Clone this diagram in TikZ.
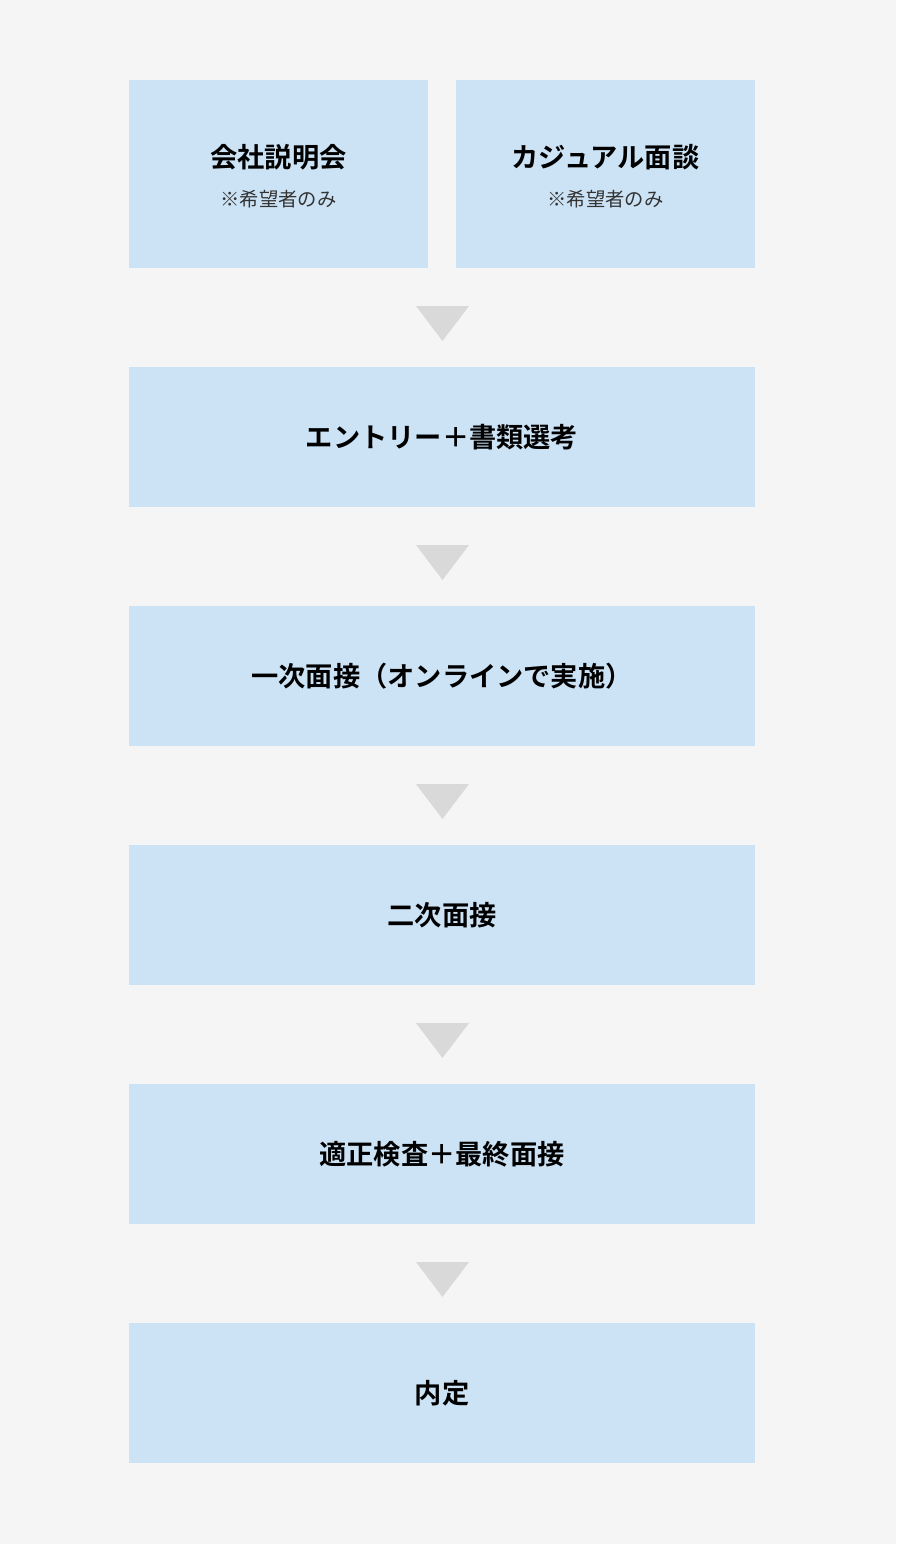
\documentclass[tikz,border=0pt]{standalone}
\usepackage{fontspec}
\setmainfont{Noto Sans CJK JP}
\newfontfamily\jpbold{Noto Sans CJK JP Bold}
\definecolor{bgcol}{HTML}{F5F5F5}
\definecolor{boxcol}{HTML}{CCE3F5}
\definecolor{arrcol}{HTML}{D9D9D9}
\begin{document}
\begin{tikzpicture}[x=0.02cm,y=-0.02cm,
  stage/.style={fill=boxcol,inner sep=0pt,minimum width=626*0.02cm,minimum height=140*0.02cm},
  half/.style={fill=boxcol,inner sep=0pt,minimum width=299*0.02cm,minimum height=188*0.02cm},
  title/.style={font=\jpbold\fontsize{15.5}{18}\selectfont},
  note/.style={font=\fontsize{11}{13}\selectfont,text=black!80}]
\fill[bgcol] (0,0) rectangle (896,1544);
\useasboundingbox (0,0) rectangle (896,1544);

\node[half] (S1) at (278.5,174) {};
\node[half] (S2) at (605.5,174) {};
\node[title] at (278.5,157) {会社説明会};
\node[note]  at (278.5,199) {※希望者のみ};
\node[title] at (605.5,157) {カジュアル面談};
\node[note]  at (605.5,199) {※希望者のみ};

\node[stage,title] (E1) at (442,437)  {エントリー＋書類選考};
\node[stage,title] (E2) at (442,676)  {一次面接（オンラインで実施）};
\node[stage,title] (E3) at (442,915)  {二次面接};
\node[stage,title] (E4) at (442,1154) {適正検査＋最終面接};
\node[stage,title] (E5) at (442,1393) {内定};

% arrows
\foreach \y in {306,545,784,1023,1262}
  \fill[arrcol] (416,\y) -- (469,\y) -- (442.5,\y+35) -- cycle;
\end{tikzpicture}
\end{document}
